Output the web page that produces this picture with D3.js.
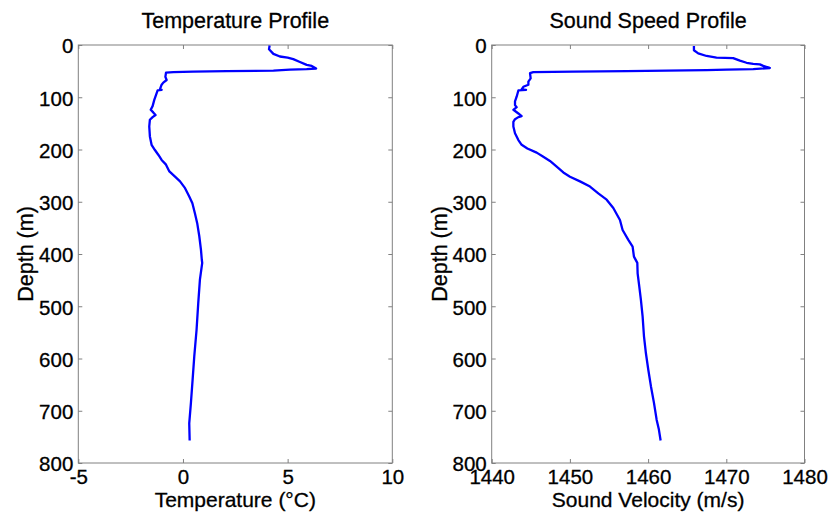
<!DOCTYPE html>
<html>
<head>
<meta charset="utf-8">
<script src="https://cdn.jsdelivr.net/npm/d3@7"></script>
<style>
  html, body { margin: 0; padding: 0; background: #fff; }
  svg { display: block; font-family: Arial, "Liberation Sans", Helvetica, sans-serif; }
  svg text { stroke: #000; stroke-width: 0.3px; }
</style>
</head>
<body>
<div id="chart"></div>
<script>
// CTD cast: temperature and sound speed vs depth

const depthTicks = [0, 100, 200, 300, 400, 500, 600, 700, 800];
const tempTicks = [-5, 0, 5, 10];
const speedTicks = [1440, 1450, 1460, 1470, 1480];

const tempDepth = [1, 8, 17, 22, 24, 27, 32, 38, 40, 45, 46, 47, 49, 50, 51, 52, 53, 61, 67, 72,
    76, 85, 86, 87, 96, 105, 117, 124, 129, 134, 138, 143, 156, 175, 191, 201, 210, 220, 229, 242,
    252, 261, 274, 290, 303, 322, 341, 366, 392, 411, 417, 449, 494, 545, 596, 641, 685, 724, 757];
const tempValues = [4.14, 4.11, 4.32, 4.63, 5.00, 5.27, 5.56, 5.91, 6.15, 6.36, 5.91, 5.11, 4.32, 2.09, 0.49, -0.46, -0.81, -0.84, -0.78, -0.94,
    -1.02, -1.10, -1.02, -1.21, -1.29, -1.37, -1.45, -1.54, -1.42, -1.31, -1.45, -1.58, -1.61, -1.58, -1.50, -1.34, -1.18, -1.02, -0.81, -0.65,
    -0.38, -0.14, 0.10, 0.30, 0.45, 0.57, 0.68, 0.78, 0.86, 0.90, 0.92, 0.81, 0.73, 0.65, 0.54, 0.46, 0.38, 0.30, 0.32];

const speedDepth = [2, 10, 16, 21, 24, 25, 30, 34, 36, 37, 40, 44, 46, 47, 48, 50, 51, 52, 54, 64,
    70, 76, 80, 85, 86, 87, 99, 108, 115, 119, 124, 131, 136, 138, 142, 147, 156, 169, 182, 191,
    198, 206, 214, 222, 233, 244, 252, 261, 271, 284, 296, 312, 335, 354, 373, 386, 405, 417, 437, 462,
    488, 520, 557, 590, 621, 653, 685, 717, 736, 757];
const speedValues = [1465.86, 1465.86, 1466.41, 1467.48, 1468.75, 1470.88, 1471.74, 1472.59, 1473.44, 1474.29, 1474.72, 1475.57, 1473.44, 1470.03, 1467.48, 1457.25, 1450.44, 1445.32, 1444.90, 1444.98,
    1444.69, 1444.69, 1444.05, 1443.83, 1444.39, 1443.41, 1443.19, 1442.98, 1442.98, 1443.19, 1442.77, 1443.41, 1443.83, 1443.41, 1442.98, 1442.77, 1442.77, 1442.98, 1443.41, 1443.83,
    1444.56, 1445.75, 1446.60, 1447.45, 1448.31, 1449.16, 1450.01, 1451.29, 1452.57, 1453.63, 1454.70, 1455.55, 1456.40, 1456.74, 1457.47, 1458.02, 1458.19, 1458.62, 1458.66, 1458.87,
    1459.08, 1459.30, 1459.47, 1459.72, 1460.02, 1460.36, 1460.75, 1461.09, 1461.38, 1461.60];

const W = 830, H = 512;
const boxColor = '#808080';

const svg = d3.select('#chart').append('svg')
    .attr('width', W)
    .attr('height', H);

svg.append('rect').attr('width', W).attr('height', H).attr('fill', '#fff');

function drawPanel(opts) {
    const { left, right, top, bottom, domain, ticks, depths, values, title, xLabel } = opts;

    const x = d3.scaleLinear().domain(domain).range([left, right]);
    const y = d3.scaleLinear().domain([0, 800]).range([top, bottom]);

    const g = svg.append('g');

    // box
    g.append('rect')
        .attr('x', left)
        .attr('y', top)
        .attr('width', right - left)
        .attr('height', bottom - top)
        .attr('fill', 'none')
        .attr('stroke', boxColor)
        .attr('stroke-width', 1);

    // plain hyphen minus like the original, not the unicode one
    const fmt = d => String(d);

    // bottom axis with labels, ticks pointing inward
    const xb = g.append('g')
        .attr('transform', `translate(0,${bottom})`)
        .call(d3.axisBottom(x).tickValues(ticks).tickSizeInner(-4).tickSizeOuter(0).tickPadding(6).tickFormat(fmt));
    // top axis, ticks only
    const xt = g.append('g')
        .attr('transform', `translate(0,${top})`)
        .call(d3.axisTop(x).tickValues(ticks).tickSizeInner(-4).tickSizeOuter(0).tickFormat(''));
    // left axis with labels
    const yl = g.append('g')
        .attr('transform', `translate(${left},0)`)
        .call(d3.axisLeft(y).tickValues(depthTicks).tickSizeInner(-4).tickSizeOuter(0).tickPadding(5).tickFormat(fmt));
    // right axis, ticks only
    const yr = g.append('g')
        .attr('transform', `translate(${right},0)`)
        .call(d3.axisRight(y).tickValues(depthTicks).tickSizeInner(-4).tickSizeOuter(0).tickFormat(''));

    [xb, xt, yl, yr].forEach(a => {
        a.select('.domain').remove();
        a.selectAll('line').attr('stroke', boxColor);
        a.selectAll('text')
            .attr('fill', '#000')
            .style('font-size', '20.5px')
            .style('font-family', 'Arial, "Liberation Sans", Helvetica, sans-serif');
    });
    yl.selectAll('text').attr('dy', '0.38em');

    // profile line
    const pts = depths.map((d, i) => ({ depth: d, v: values[i] }));
    g.append('path')
        .datum(pts)
        .attr('fill', 'none')
        .attr('stroke', '#0000ff')
        .attr('stroke-width', 2.3)
        .attr('stroke-linejoin', 'round')
        .attr('d', d3.line().x(d => x(d.v)).y(d => y(d.depth)));

    // title
    g.append('text')
        .attr('x', (left + right) / 2)
        .attr('y', 28)
        .attr('text-anchor', 'middle')
        .style('font-size', '21.5px')
        .text(title);

    // x label
    g.append('text')
        .attr('x', (left + right) / 2)
        .attr('y', 507)
        .attr('text-anchor', 'middle')
        .style('font-size', '21px')
        .text(xLabel);

    // y label
    g.append('text')
        .attr('transform', `translate(${left - 45},${(top + bottom) / 2}) rotate(-90)`)
        .attr('text-anchor', 'middle')
        .style('font-size', '21.5px')
        .text('Depth (m)');
}

drawPanel({
    left: 78.3, right: 392.3, top: 45, bottom: 463,
    domain: [-5, 10], ticks: tempTicks,
    depths: tempDepth, values: tempValues,
    title: 'Temperature Profile', xLabel: 'Temperature (°C)'
});

drawPanel({
    left: 491.7, right: 804.5, top: 45, bottom: 463,
    domain: [1440, 1480], ticks: speedTicks,
    depths: speedDepth, values: speedValues,
    title: 'Sound Speed Profile', xLabel: 'Sound Velocity (m/s)'
});
</script>
</body>
</html>
